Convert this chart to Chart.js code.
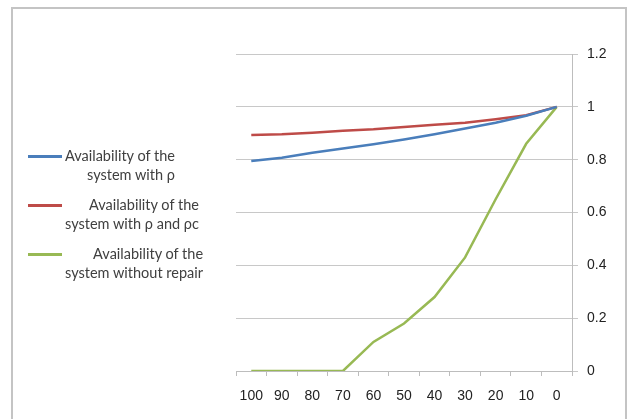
<!DOCTYPE html>
<html>
<head>
<meta charset="utf-8">
<script src="https://cdn.jsdelivr.net/npm/chart.js@4/dist/chart.umd.min.js"></script>
<style>
  body { margin: 0; background: #fff; }
  #wrap { position: relative; width: 630px; height: 419px; overflow: hidden; }
  #frame { position: absolute; left: 11px; top: 7px; width: 616px; height: 440px; border: 2px solid #c4c4c4; box-sizing: border-box; }
  canvas { position: absolute; left: 0; top: 0; }
  #legend { position: absolute; left: 0; top: 0; font-family: Lato, "Open Sans", sans-serif; font-size: 14.5px; color: #404040; }
  .item { position: absolute; left: 28px; white-space: nowrap; }
  .swatch { position: absolute; left: 0; top: 9px; width: 34px; height: 3px; }
  .txt { position: absolute; left: 37px; top: 0; display: inline-block; text-align: right; line-height: 19px; }
</style>
</head>
<body>
<div id="wrap">
  <div id="frame"></div>
  <canvas id="chart" width="630" height="419"></canvas>
  <div id="legend"></div>
</div>
<script>
// categories on the x axis (time, read right to left)
const categories = ['100', '90', '80', '70', '60', '50', '40', '30', '20', '10', '0'];

// series values
const withRho = [0.795, 0.807, 0.826, 0.842, 0.858, 0.876, 0.896, 0.918, 0.94, 0.966, 1];
const withRhoAndRhoC = [0.893, 0.896, 0.902, 0.909, 0.915, 0.924, 0.932, 0.94, 0.953, 0.968, 1];
const withoutRepair = [0, 0, 0, 0, 0.11, 0.18, 0.28, 0.43, 0.65, 0.86, 1];

// legend names (two lines each)
const seriesNames = [
    ['Availability of the', 'system with \u03c1'],
    ['Availability of the', 'system with \u03c1 and \u03c1c'],
    ['Availability of the', 'system without repair']
];
const seriesColors = ['#4a7ebb', '#be4b48', '#98b954'];
const legendTops = [146, 195, 244];

const yTicks = [0, 0.2, 0.4, 0.6, 0.8, 1, 1.2];

const seriesData = [withRho, withRhoAndRhoC, withoutRepair];

// Build the legend on the left
const legend = document.getElementById('legend');
seriesNames.forEach((name, i) => {
    const item = document.createElement('div');
    item.className = 'item';
    item.style.top = legendTops[i] + 'px';
    const sw = document.createElement('div');
    sw.className = 'swatch';
    sw.style.background = seriesColors[i];
    const txt = document.createElement('div');
    txt.className = 'txt';
    txt.innerHTML = name.join('<br>');
    item.appendChild(sw);
    item.appendChild(txt);
    legend.appendChild(item);
});

const tickFont = { family: '"Liberation Sans", Arial, sans-serif', size: 14 };

new Chart(document.getElementById('chart'), {
    type: 'line',
    data: {
        labels: categories,
        datasets: seriesData.map((values, i) => ({
            label: seriesNames[i].join(' '),
            data: values,
            borderColor: seriesColors[i],
            backgroundColor: seriesColors[i],
            borderWidth: 2.5,
            pointRadius: 0,
            tension: 0,
            fill: false
        }))
    },
    options: {
        responsive: false,
        animation: false,
        layout: { padding: { left: 236, top: 54, right: 0, bottom: 0 } },
        plugins: { legend: { display: false }, tooltip: { enabled: false } },
        scales: {
            x: {
                offset: true,
                grid: { offset: true, drawOnChartArea: false, drawTicks: true, tickLength: 5, color: '#bdbdbd' },
                border: { display: true, color: '#bdbdbd', width: 1 },
                ticks: { font: tickFont, color: '#222', padding: 12, maxRotation: 0, autoSkip: false },
                afterFit: s => { s.height = 48; }
            },
            y: {
                position: 'right',
                min: 0,
                max: 1.2,
                afterBuildTicks: s => { s.ticks = yTicks.map(v => ({ value: v })); },
                grid: { color: '#c8c8c8', tickLength: 6, lineWidth: 1 },
                border: { display: true, color: '#bdbdbd', width: 1 },
                ticks: {
                    font: tickFont, color: '#222', padding: 9,
                    callback: v => String(+Number(v).toFixed(1))
                },
                afterFit: s => { s.width = 58; }
            }
        }
    }
});
</script>
</body>
</html>
